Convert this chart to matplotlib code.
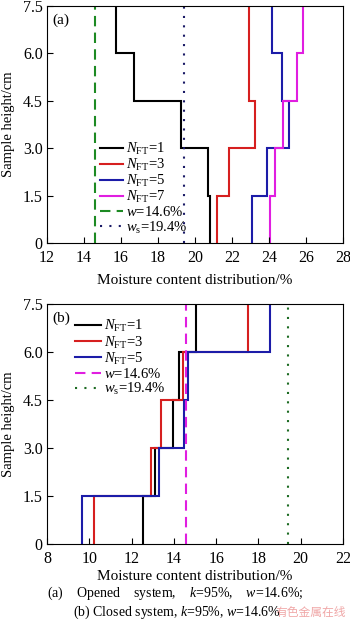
import matplotlib
matplotlib.use("Agg")
import matplotlib.pyplot as plt
import numpy as np

plt.rcParams['font.family'] = ['Liberation Serif', 'Noto Sans CJK SC']
plt.rcParams['mathtext.fontset'] = 'custom'
plt.rcParams['mathtext.rm'] = 'Liberation Serif'
plt.rcParams['mathtext.it'] = 'Liberation Serif:italic'

# sample height edges (cm)
heights = [0, 1.5, 3.0, 4.5, 6.0, 7.5]
ytick_labels = ['0', '1.5', '3.0', '4.5', '6.0', '7.5']

# (a) opened system, moisture content per layer (bottom -> top)
a_n1 = [20.83, 20.72, 19.23, 16.69, 15.72]
a_n3 = [21.19, 21.82, 23.24, 22.94, 22.90]
a_n5 = [23.10, 23.90, 25.06, 24.73, 24.16]
a_n7 = [24.05, 24.32, 24.77, 25.49, 25.85]

# (b) closed system
b_n1 = [12.56, 13.11, 13.98, 14.26, 15.03]
b_n3 = [10.21, 12.92, 13.38, 14.45, 17.49]
b_n5 = [9.67, 13.31, 14.50, 14.66, 18.57]

w0 = 14.6
ws = 19.4

fig = plt.figure(figsize=(3.5, 6.21), dpi=100)
ax1 = fig.add_axes([0.134, 0.6087, 0.846, 0.3816])
ax2 = fig.add_axes([0.134, 0.124, 0.846, 0.3865])

lw = 1.5
ax1.stairs(a_n1, heights, orientation='horizontal', baseline=None, color='black', lw=lw, label=r'$N_{\rm FT}$=1')
ax1.stairs(a_n3, heights, orientation='horizontal', baseline=None, color='#d61f1f', lw=lw, label=r'$N_{\rm FT}$=3')
ax1.stairs(a_n5, heights, orientation='horizontal', baseline=None, color='#1c1ca8', lw=lw, label=r'$N_{\rm FT}$=5')
ax1.stairs(a_n7, heights, orientation='horizontal', baseline=None, color='#e01ee0', lw=lw, label=r'$N_{\rm FT}$=7')
ax1.axvline(w0, color='#1d8a23', lw=lw, ls=(0, (5, 3)), label=r'$w$=14.6%')
ax1.axvline(ws, color='#1a1a66', lw=lw, ls=(0, (1, 3.5)), label=r'$w_{\rm s}$=19.4%')
ax1.set_xlim(12, 28)
ax1.set_xticks(np.arange(12, 29, 2))

ax2.stairs(b_n1, heights, orientation='horizontal', baseline=None, color='black', lw=lw, label=r'$N_{\rm FT}$=1')
ax2.stairs(b_n3, heights, orientation='horizontal', baseline=None, color='#d61f1f', lw=lw, label=r'$N_{\rm FT}$=3')
ax2.stairs(b_n5, heights, orientation='horizontal', baseline=None, color='#1c1ca8', lw=lw, label=r'$N_{\rm FT}$=5')
ax2.axvline(w0, color='#e01ee0', lw=lw, ls=(0, (5, 3)), label=r'$w$=14.6%')
ax2.axvline(ws, color='#1d6b23', lw=lw, ls=(0, (1, 3.5)), label=r'$w_{\rm s}$=19.4%')
ax2.set_xlim(8, 22)
ax2.set_xticks(np.arange(8, 23, 2))

for ax, tag in ((ax1, '(a)'), (ax2, '(b)')):
    ax.set_ylim(0, 7.5)
    ax.set_yticks(heights)
    ax.set_yticklabels(ytick_labels)
    ax.tick_params(direction='in', labelsize=11.5, length=4, width=0.8)
    ax.tick_params(axis='x', pad=5)
    ax.tick_params(axis='y', pad=3)
    ax.set_ylabel('Sample height/cm', fontsize=10.5, labelpad=6)
    ax.text(0.02, 0.97, tag, transform=ax.transAxes, fontsize=11, va='top', ha='left')
    for s in ax.spines.values():
        s.set_linewidth(0.8)

ax1.set_xlabel('Moisture content distribution/%', fontsize=11, labelpad=5.5)
ax2.set_xlabel('Moisture content distribution/%', fontsize=11, labelpad=2.5)

ax1.legend(loc='upper left', bbox_to_anchor=(0.179, 0.43), frameon=False, fontsize=10.5,
           borderpad=0, borderaxespad=0, handlelength=1.6, handletextpad=0.2, labelspacing=0.0)
ax2.legend(loc='upper left', bbox_to_anchor=(0.095, 0.94), frameon=False, fontsize=10.5,
           borderpad=0, borderaxespad=0, handlelength=1.8, handletextpad=0.2, labelspacing=0.0)

fig.text(0.50, 1 - 593 / 621, r'(a)    Opened    system,    $k$=95%,    $w$=14.6%;',
         ha='center', va='center', fontsize=10)
fig.text(0.505, 1 - 612 / 621, r'(b) Closed system, $k$=95%, $w$=14.6%',
         ha='center', va='center', fontsize=10)
fig.text(0.99, 1 - 612 / 621, '有色金属在线', ha='right', va='center', fontsize=8.5,
         color='#f0a8a8', family=['Noto Sans CJK SC'])

fig.savefig('out.png', dpi=100)
